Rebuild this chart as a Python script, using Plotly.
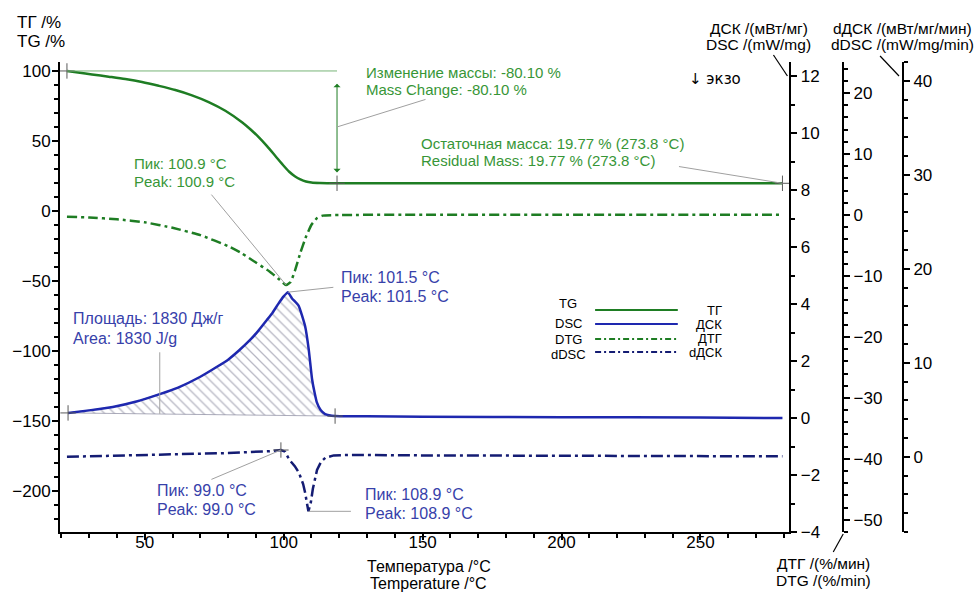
import plotly.graph_objects as go

# ---------------- data ----------------
tg_x = [22, 26, 31, 37, 43, 49, 55, 61, 67, 73, 79, 85, 88, 91, 94, 97, 99.5, 102, 104, 106,
        108, 110, 113, 117, 125, 150, 200, 250, 279.5]
tg_y = [100, 98.9, 97.5, 95.9, 94.2, 92.1, 89.4, 86.4, 82.6, 77.8, 71.6, 63.4, 58.4, 52.7, 46.3, 39.3, 33.4, 28.0, 24.8, 22.5,
        21.0, 20.3, 19.95, 19.82, 19.79, 19.78, 19.77, 19.77, 19.77]

dtg_x = [22, 30, 40, 50, 60, 70, 80, 85, 90, 95, 98, 100.9, 102.5, 104, 106, 108, 110, 112, 114, 120, 150, 200, 250, 279.5]
dtg_y = [-0.3, -0.4, -0.7, -1.2, -2.1, -3.3, -5.1, -6.3, -7.8, -9.3, -10.4, -11.5, -11.0, -9.2, -6.2, -3.6, -1.6, -0.5, -0.1, 0.0, 0.05, 0.05, 0.05, 0.05]

dsc_x = [22.4, 30, 38.5, 47, 55.4, 62, 70, 76, 80, 84, 88, 91, 94, 96, 98, 100, 101.5, 103, 105.4, 107.7,
         109, 110.2, 111.2, 111.9, 113.3, 114.9, 118.5, 130, 150, 200, 250, 279.5]
dsc_y = [0.18, 0.27, 0.39, 0.58, 0.84, 1.07, 1.45, 1.8, 2.05, 2.38, 2.75, 3.08, 3.45, 3.7, 4.0, 4.27, 4.42, 4.2, 3.94, 3.23,
         2.42, 1.37, 0.85, 0.56, 0.28, 0.14, 0.07, 0.06, 0.05, 0.03, 0.02, 0.0]

ddsc_x = [22, 40, 60, 80, 95, 99, 100.5, 102, 104, 105.5, 107, 107.7, 108.9, 109.8, 110.5, 111.3, 112, 113.5, 115, 118,
          125, 150, 200, 250, 279.5]
ddsc_y = [0.0, 0.1, 0.22, 0.4, 0.6, 0.72, 0.55, -0.3, -1.0, -1.7, -2.9, -3.8, -5.8, -4.8, -3.4, -2.2, -1.4, -0.5, -0.1, 0.15,
          0.2, 0.15, 0.1, 0.05, 0.05]

# evaluation points
tg_start = (22, 100.0)
mass_step_x = 119.2
residual = (279.5, 19.77)
dtg_peak = (100.9, -11.5)
dsc_peak = (101.5, 4.42)
area_start = (22.4, 0.18)
area_end = (118.5, 0.07)
area_label_x = 55.4
ddsc_peak1 = (99.0, 0.72)
ddsc_peak2 = (108.9, -5.8)

x_ticks = [50, 100, 150, 200, 250]

# ---------------- style ----------------
FONT = "Liberation Sans, Arial, sans-serif"
GREEN = "rgb(30,125,35)"
GREEN_T = "rgb(55,150,55)"
BLUE = "rgb(30,40,175)"
NAVY = "rgb(20,28,115)"
BLUE_T = "rgb(55,65,170)"
GREY = "rgb(160,160,160)"

L, R_EDGE, T, B = 57, 903, 62, 532
W, H = R_EDGE - L, B - T


def px(x):
    return (x - L) / W


def py(y):
    return (B - y) / H


fig = go.Figure()

# hatched area under DSC peak
area_x = [x for x in dsc_x if x <= area_end[0]]
area_y = [y for x, y in zip(dsc_x, dsc_y) if x <= area_end[0]]
fig.add_trace(go.Scatter(
    x=area_x + [area_end[0], area_start[0]],
    y=area_y + [area_end[1], area_start[1]],
    yaxis="y2", mode="lines", fill="toself",
    line=dict(color="rgba(140,140,160,0.9)", width=0.8),
    fillcolor="rgba(255,255,255,0)",
    fillpattern=dict(shape="\\", fgcolor="rgb(110,110,135)", bgcolor="rgba(255,255,255,0)", size=7, solidity=0.18),
    hoverinfo="skip", showlegend=False))

fig.add_trace(go.Scatter(x=tg_x, y=tg_y, mode="lines", line=dict(color=GREEN, width=2.5, shape="spline", smoothing=0.8),
                         showlegend=False))
fig.add_trace(go.Scatter(x=dtg_x, y=dtg_y, yaxis="y3", mode="lines",
                         line=dict(color=GREEN, width=2.5, dash="10px,4px,3px,4px", shape="spline", smoothing=0.4),
                         showlegend=False))
fig.add_trace(go.Scatter(x=dsc_x, y=dsc_y, yaxis="y2", mode="lines",
                         line=dict(color=BLUE, width=2.5, shape="spline", smoothing=0.4), showlegend=False))
fig.add_trace(go.Scatter(x=ddsc_x, y=ddsc_y, yaxis="y4", mode="lines",
                         line=dict(color=NAVY, width=2.5, dash="12px,4px,3px,4px"), showlegend=False))

# "+" evaluation markers
cross = dict(symbol="cross-thin", size=11, line=dict(width=1, color="rgb(90,90,90)"))
fig.add_trace(go.Scatter(x=[tg_start[0], mass_step_x, residual[0]], y=[tg_start[1], residual[1], residual[1]],
                         mode="markers", marker=cross, showlegend=False))
fig.add_trace(go.Scatter(x=[area_start[0], area_end[0]], y=[area_start[1], area_end[1]], yaxis="y2",
                         mode="markers", marker=cross, showlegend=False))
fig.add_trace(go.Scatter(x=[ddsc_peak1[0]], y=[ddsc_peak1[1]], yaxis="y4",
                         mode="markers", marker=cross, showlegend=False))

# reference line at start mass
fig.add_shape(type="line", xref="x", yref="y", x0=tg_start[0], x1=mass_step_x, y0=tg_start[1], y1=tg_start[1],
              line=dict(color="rgb(120,180,120)", width=1))

ann = []
# mass change double arrow
ann.append(dict(x=mass_step_x, y=27.5, ax=mass_step_x, ay=92, xref="x", yref="y", axref="x", ayref="y",
                showarrow=True, arrowside="end+start", arrowhead=1, arrowsize=1.2, arrowwidth=1,
                arrowcolor=GREEN, text=""))


def leader(x, y, yref, ax, ay):
    ann.append(dict(x=x, y=y, xref="x", yref=yref, ax=ax, ay=ay, showarrow=True, arrowhead=0,
                    arrowwidth=1, arrowcolor=GREY, text=""))


leader(mass_step_x, 60, "y", 90, -28)
leader(residual[0], residual[1], "y", -105, -17)
leader(dtg_peak[0], dtg_peak[1], "y3", -76, -92)
leader(dsc_peak[0], dsc_peak[1], "y2", 47, -5)
leader(area_label_x, 0.15, "y2", 0, -63)
leader(ddsc_peak1[0], ddsc_peak1[1], "y4", -71, 30)
leader(ddsc_peak2[0], ddsc_peak2[1], "y4", 44, 0)


def text(x, y, s, color="black", size=15, xanchor="left", family=FONT):
    ann.append(dict(x=px(x), y=py(y), xref="paper", yref="paper", text=s, showarrow=False,
                    xanchor=xanchor, yanchor="middle", align=xanchor if xanchor != "center" else "center",
                    font=dict(family=family, size=size, color=color)))


def text2(x, y1, y2, s1, s2, color="black", size=15, xanchor="left"):
    text(x, y1, s1, color, size, xanchor)
    text(x, y2, s2, color, size, xanchor)


text2(362, 72, 89, "Изменение массы: -80.10 %", "Mass Change: -80.10 %", GREEN_T, 15)
text2(417, 143, 160, "Остаточная масса: 19.77 % (273.8 °C)", "Residual Mass: 19.77 % (273.8 °C)", GREEN_T, 15)
text2(129, 163, 181, "Пик: 100.9 °C", "Peak: 100.9 °C", GREEN_T, 15)
text2(337, 277, 296, "Пик: 101.5 °C", "Peak: 101.5 °C", BLUE_T, 16)
text2(68, 318, 338, "Площадь: 1830 Дж/г", "Area: 1830 J/g", BLUE_T, 16)
text2(152, 490, 509, "Пик: 99.0 °C", "Peak: 99.0 °C", BLUE_T, 16)
text2(361, 494, 513, "Пик: 108.9 °C", "Peak: 108.9 °C", BLUE_T, 16)

# axis titles
text2(12, 22, 42, "ТГ /%", "TG /%", "black", 17)
text2(758, 28, 44, "ДСК /(мВт/мг)", "DSC /(mW/mg)", "black", 15.5, "center")
text2(902, 28, 44, "dДСК /(мВт/мг/мин)", "dDSC /(mW/mg/min)", "black", 15.5, "center")
text2(823, 563, 580, "ДТГ /(%/мин)", "DTG /(%/min)", "black", 15.5, "center")
text2(427, 566, 583, "Температура /°C", "Temperature /°C", "black", 16, "center")
text(686, 79, "↓ экзо", "black", 15, family="DejaVu Sans, Liberation Sans, sans-serif")

# legend
legend_rows = [("TG", "ТГ", GREEN, "solid", 303, 310, 310),
               ("DSC", "ДСК", BLUE, "solid", 323, 324, 324),
               ("DTG", "ДТГ", GREEN, "6px,3px,2px,3px", 339, 338, 339),
               ("dDSC", "dДСК", NAVY, "6px,3px,2px,3px", 354, 352, 352)]
for en, ru, col, dash, ye, yr, yl in legend_rows:
    text(567, ye, en, "black", 13, xanchor="center")
    text(723, yr, ru, "black", 13, xanchor="right")
    fig.add_shape(type="line", xref="paper", yref="paper", x0=px(594), x1=px(677), y0=py(yl), y1=py(yl),
                  line=dict(color=col, width=2, dash=dash))

# title leaders
for (x0, y0, x1, y1) in [(773, 55, 787, 76), (880, 56, 899, 76), (843, 534, 833, 552)]:
    fig.add_shape(type="line", xref="paper", yref="paper", x0=px(x0), y0=py(y0), x1=px(x1), y1=py(y1),
                  line=dict(color="black", width=1.2))

axis_common = dict(showgrid=False, zeroline=False, showline=True, linecolor="black", linewidth=2,
                   ticks="outside", ticklen=6, tickwidth=1.5, tickcolor="black",
                   tickfont=dict(family=FONT, size=17, color="black"))

fig.update_layout(
    width=978, height=592,
    margin=dict(l=L, r=978 - R_EDGE, t=T, b=592 - B),
    paper_bgcolor="white", plot_bgcolor="white",
    showlegend=False,
    annotations=ann,
    xaxis=dict(domain=[0, (789 - L) / W], range=[19.5, 282], tickvals=x_ticks, ticklabelstandoff=-12,
               minor=dict(dtick=10, tick0=0, ticks="outside", ticklen=4, tickcolor="black"), **axis_common),
    yaxis=dict(range=[-229.3, 106.4], dtick=50, tick0=0, ticklabelstandoff=-2,
               minor=dict(dtick=10, tick0=0, ticks="outside", ticklen=4, tickcolor="black"), **axis_common),
    yaxis2=dict(overlaying="y", side="right", anchor="x", range=[-4.0, 12.5], dtick=2, tick0=0,
                minor=dict(dtick=1, tick0=0, ticks="outside", ticklen=4, tickcolor="black"), **axis_common),
    yaxis3=dict(overlaying="y", side="right", anchor="free", position=(843 - L) / W, range=[-52, 25.1],
                dtick=10, tick0=0,
                minor=dict(dtick=2, tick0=0, ticks="outside", ticklen=4, tickcolor="black"), **axis_common),
    yaxis4=dict(overlaying="y", side="right", anchor="free", position=1.0, range=[-8, 42], dtick=10, tick0=0,
                minor=dict(dtick=2, tick0=0, ticks="outside", ticklen=4, tickcolor="black"), **axis_common),
)

fig.write_html("out.html", config={"displayModeBar": False},
               post_script="document.body.style.margin='0px';document.body.style.padding='0px';")
